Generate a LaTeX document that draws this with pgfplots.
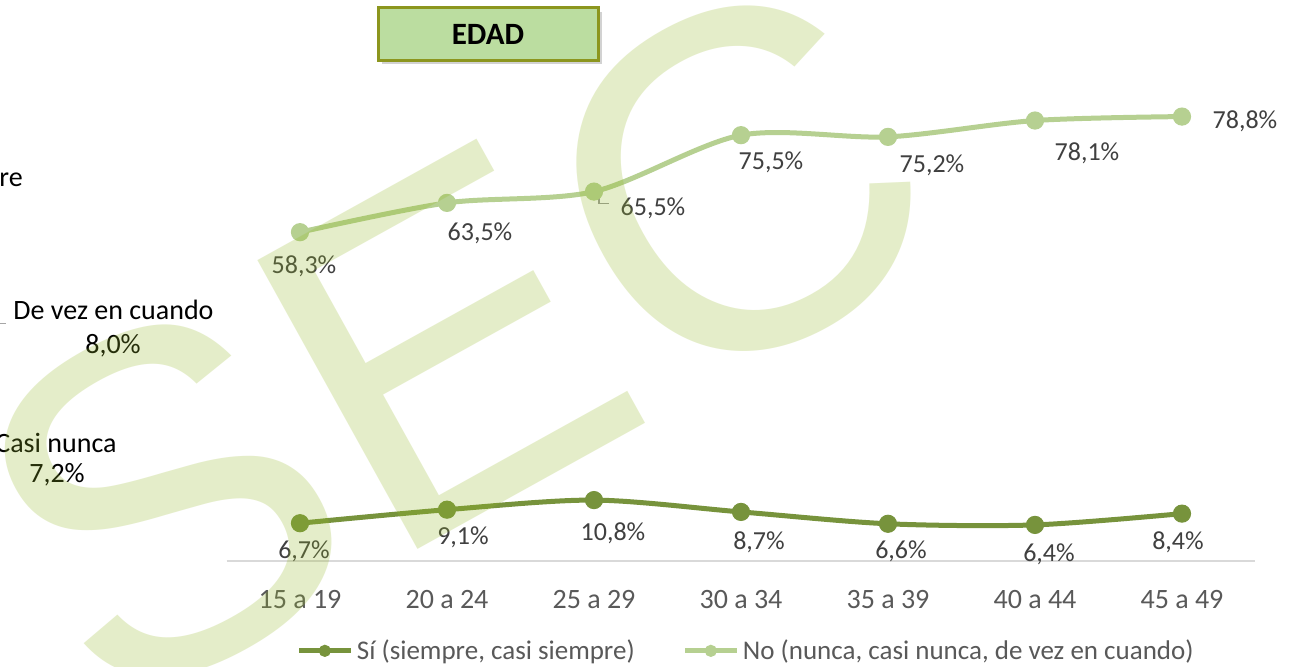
\documentclass[border=0pt]{standalone}
\usepackage{fontspec}
\setmainfont{Carlito}
\newfontfamily\wmfont{Liberation Sans}
\usepackage{pgfplots}
\usepackage{pgfplotstable}
\pgfplotsset{compat=1.18}
\usetikzlibrary{shadows}
\definecolor{sicol}{RGB}{119,147,60}
\definecolor{nocol}{RGB}{182,208,145}
\definecolor{lblcol}{RGB}{64,64,64}
\definecolor{tickcol}{RGB}{89,89,89}
\definecolor{boxfill}{RGB}{187,221,160}
\definecolor{boxdraw}{RGB}{140,150,30}
\definecolor{wmcol}{RGB}{150,185,40}

\pgfplotstableread{
x y dx dy
0 6.7 2 -14
1 9.1 8 -14
2 10.8 9.5 -16.5
3 8.7 9 -15
4 6.6 6.5 -14
5 6.4 7 -14.5
6 8.4 -2 -14.5
}\si

\pgfplotstableread{
x y dx dy
0 58.3 2 -17
1 63.5 16.5 -15
2 65.5 29.5 -8.5
3 75.5 15 -13.5
4 75.2 22 -14
5 78.1 26 -16.5
6 78.8 31.5 -2.5
}\no

\begin{document}
\begin{tikzpicture}[x=1pt,y=1pt]
\clip (0,0) rectangle (646,333);
\path[fill=white] (0,0) rectangle (646,333);

% remnants of the neighbouring chart
\node[anchor=west, inner sep=0pt, font=\fontsize{14}{16}\selectfont] at (-0.5,243) {re};
\node[inner sep=0pt, font=\fontsize{14}{16}\selectfont] at (56.75,178) {De vez en cuando};
\node[inner sep=0pt, font=\fontsize{14}{16}\selectfont] at (56.5,160) {8,0\%};
\draw[gray!70, line width=0.5pt] (0,171.5) -- (3,171.5);
\node[inner sep=0pt, font=\fontsize{14}{16}\selectfont] at (28,111.5) {Casi nunca};
\node[inner sep=0pt, font=\fontsize{14}{16}\selectfont] at (28.5,95.5) {7,2\%};

\begin{axis}[
  at={(113.25pt,52.5pt)}, anchor=south west,
  scale only axis, width=514.5pt, height=253.8pt,
  xmin=-0.5, xmax=6.5, ymin=0, ymax=90,
  clip=false,
  axis y line=none,
  axis x line*=bottom,
  x axis line style={-, draw={rgb,255:red,217;green,217;blue,217}, line width=0.8pt},
  xtick={0,1,2,3,4,5,6},
  xticklabels={15 a 19,20 a 24,25 a 29,30 a 34,35 a 39,40 a 44,45 a 49},
  major tick length=0pt,
  xticklabel style={font=\fontsize{14}{16}\selectfont, text=tickcol, yshift=-11pt},
  /pgf/number format/assume math mode=true,
  legend columns=2,
  legend style={at={(0.506,-0.177)}, anchor=center, draw=none, fill=none,
     font=\fontsize{13.5}{15}\selectfont, text=tickcol,
     /tikz/every even column/.append style={column sep=22pt}},
  legend image code/.code={\draw[#1,mark size=2.8pt,mark repeat=2,mark phase=2] plot coordinates {(0cm,0cm)(0.45cm,0cm)(0.9cm,0cm)};},
]
\addplot[smooth, tension=0.5, color=sicol, line width=2.5pt, mark=*, mark size=4.3pt,
   mark options={solid, line width=0.5pt}, point meta=explicit,
   visualization depends on={\thisrow{dx} \as \dx},
   visualization depends on={\thisrow{dy} \as \dy},
   nodes near coords={\pgfmathprintnumber[fixed,fixed zerofill,precision=1,use comma]{\pgfplotspointmeta}\%},
   nodes near coords style={anchor=center, inner sep=0pt, xshift=\dx pt, yshift=\dy pt,
     font=\fontsize{13}{15}\selectfont, text=lblcol}]
   table[x=x, y=y, meta=y] {\si};
\addlegendentry{Sí (siempre, casi siempre)}
\addplot[smooth, tension=0.5, color=nocol, line width=2.5pt, mark=*, mark size=4.3pt,
   mark options={solid, line width=0.5pt}, point meta=explicit,
   visualization depends on={\thisrow{dx} \as \dx},
   visualization depends on={\thisrow{dy} \as \dy},
   nodes near coords={\pgfmathprintnumber[fixed,fixed zerofill,precision=1,use comma]{\pgfplotspointmeta}\%},
   nodes near coords style={anchor=center, inner sep=0pt, xshift=\dx pt, yshift=\dy pt,
     font=\fontsize{13}{15}\selectfont, text=lblcol}]
   table[x=x, y=y, meta=y] {\no};
\addlegendentry{No (nunca, casi nunca, de vez en cuando)}
\draw[gray!80, line width=0.6pt] ([xshift=2.5pt,yshift=-3pt]axis cs:2,65.5) -- ++(0pt,-3pt) -- ++(5pt,0pt);
\end{axis}

% title box
\node[draw=boxdraw, fill=boxfill, line width=1.5pt, minimum width=110pt, minimum height=26pt,
   drop shadow={shadow xshift=2pt, shadow yshift=-2pt, opacity=0.35},
   font=\fontsize{15.5}{17}\selectfont\bfseries] at (244,316) {EDAD};

% watermark
\node[rotate=29, opacity=0.25, text=wmcol, inner sep=0pt, font=\wmfont\fontsize{240}{240}\selectfont] at (227.5,163) {SEC};
\end{tikzpicture}
\end{document}
